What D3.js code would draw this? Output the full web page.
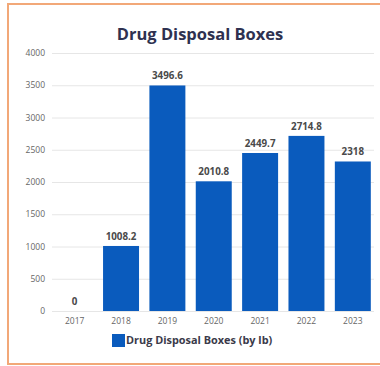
<!DOCTYPE html>
<html>
<head>
<meta charset="utf-8">
<script src="https://cdn.jsdelivr.net/npm/d3@7"></script>
<style>
  html, body { margin: 0; padding: 0; background: #fff; }
  svg { display: block; }
</style>
</head>
<body>
<svg id="chart" width="380" height="366"></svg>
<script>
// Yearly pounds collected from drug disposal boxes
const years = ["2017", "2018", "2019", "2020", "2021", "2022", "2023"];
const pounds = [0, 1008.2, 3496.6, 2010.8, 2449.7, 2714.8, 2318];
const yTicks = [0, 500, 1000, 1500, 2000, 2500, 3000, 3500, 4000];
const titleText = "Drug Disposal Boxes";
const legendText = "Drug Disposal Boxes (by lb)";

const svg = d3.select("#chart");
const font = "'Open Sans', 'Noto Sans', sans-serif";
const barColor = "#0a5bbd";

// Frame around the chart
svg.append("rect")
  .attr("x", 8).attr("y", 4)
  .attr("width", 380).attr("height", 360)
  .attr("fill", "#fff")
  .attr("stroke", "#f2a878")
  .attr("stroke-width", 2);

const x = d3.scaleBand().domain(years).range([51.5, 376]).paddingInner(0.224).paddingOuter(0.112);
const y = d3.scaleLinear().domain([0, 4000]).range([311, 53]);

// Horizontal gridlines and value axis
const yAxis = svg.append("g")
  .attr("transform", "translate(52,0)")
  .call(d3.axisLeft(y).tickValues(yTicks).tickSize(-322).tickPadding(7).tickFormat(d3.format("d")));
yAxis.select(".domain").remove();
yAxis.selectAll(".tick line").attr("stroke", "#e6e6e6").attr("stroke-width", 1);
yAxis.selectAll(".tick text")
  .attr("fill", "#666").attr("font-family", font).attr("font-size", 8.5);

// Category axis
const xAxis = svg.append("g")
  .attr("transform", "translate(0,311)")
  .call(d3.axisBottom(x).tickSize(0).tickPadding(7));
xAxis.select(".domain").remove();
xAxis.selectAll(".tick text")
  .attr("fill", "#666").attr("font-family", font).attr("font-size", 8.5);

// Bars
svg.append("g").selectAll("rect")
  .data(pounds)
  .join("rect")
  .attr("x", (d, i) => x(years[i]))
  .attr("y", d => y(d))
  .attr("width", x.bandwidth())
  .attr("height", d => y(0) - y(d))
  .attr("fill", barColor);

// Value labels
svg.append("g").selectAll("text")
  .data(pounds)
  .join("text")
  .attr("x", (d, i) => x(years[i]) + x.bandwidth() / 2)
  .attr("y", d => y(d) - 6)
  .attr("text-anchor", "middle")
  .attr("font-family", font)
  .attr("font-size", 9.8)
  .attr("font-weight", "bold")
  .attr("fill", "#4a4a4a")
  .text(d => String(d));

// Title
svg.append("text")
  .attr("x", 200).attr("y", 40)
  .attr("text-anchor", "middle")
  .attr("font-family", font)
  .attr("font-size", 16.5)
  .attr("font-weight", "bold")
  .attr("fill", "#2e3150")
  .text(titleText);

// Legend
svg.append("rect")
  .attr("x", 112).attr("y", 334)
  .attr("width", 13).attr("height", 13)
  .attr("fill", barColor);
svg.append("text")
  .attr("x", 126).attr("y", 344)
  .attr("font-family", font)
  .attr("font-size", 10.9)
  .attr("font-weight", "bold")
  .attr("fill", "#3a3a4a")
  .text(legendText);
</script>
</body>
</html>
